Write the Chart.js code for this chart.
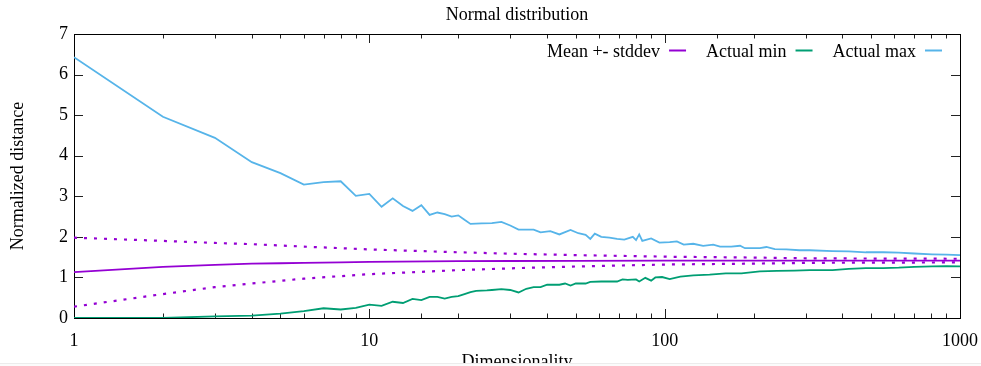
<!DOCTYPE html>
<html><head><meta charset="utf-8">
<script src="https://cdn.jsdelivr.net/npm/chart.js@4/dist/chart.umd.min.js"></script>
<style>
html,body{margin:0;padding:0;background:#fbfbfb;}
#wrap{width:981px;height:363px;overflow:hidden;background:#fff;border-bottom:1px solid #ececec;}
canvas{display:block;}
</style></head><body>
<div id="wrap"><canvas id="c" width="981" height="380"></canvas></div>
<script>
// ---- data ----
const chartTitle = 'Normal distribution';
const xTitle = 'Dimensionality';
const yTitle = 'Normalized distance';
const xTickLabels = [1, 10, 100, 1000];
const yTickValues = [0, 1, 2, 3, 4, 5, 6, 7];

const meanDims  = [1, 2, 3, 4, 5, 6, 8, 10, 20, 30, 50, 100, 1000];
const meanVals  = [1.13, 1.26, 1.31, 1.34, 1.35, 1.36, 1.37, 1.385, 1.40, 1.405, 1.41, 1.412, 1.414];

const stdDims   = [1, 2, 3, 4, 6, 10, 20, 32, 50, 104, 200, 310, 1000];
const upperVals = [1.98, 1.90, 1.85, 1.82, 1.76, 1.69, 1.62, 1.58, 1.55, 1.51, 1.49, 1.47, 1.46];
const lowerVals = [0.28, 0.59, 0.76, 0.85, 0.97, 1.08, 1.18, 1.23, 1.27, 1.32, 1.34, 1.36, 1.37];

const minDims = [1,2,3,4,5,6,7,8,9,10,11,12,13,14,15,16,17,18,19,20,21,22,23,25,26,28,30,32,34,36,38,40,44,46,48,50,54,56,61,66,69,72,75,80,82,86,90,93,98,104,113,125,142,161,182,210,240,275,310,370,420,480,550,620,700,805,900,1000];
const minVals = [0,0,0.04,0.06,0.11,0.17,0.24,0.21,0.25,0.33,0.30,0.40,0.37,0.47,0.44,0.52,0.52,0.48,0.52,0.54,0.59,0.64,0.67,0.68,0.69,0.71,0.69,0.63,0.72,0.76,0.76,0.82,0.82,0.85,0.80,0.85,0.85,0.89,0.90,0.90,0.90,0.95,0.94,0.95,0.90,0.99,0.92,1.00,1.01,0.96,1.02,1.05,1.07,1.10,1.10,1.15,1.16,1.17,1.18,1.18,1.21,1.23,1.23,1.24,1.26,1.27,1.28,1.27];

const maxDims = [1,2,3,4,5,6,7,8,9,10,11,12,13,14,15,16,17,18,19,20,21,22,24,26,28,30,32,34,36,38,41,44,48,51,54,56,58,61,65,69,73,78,80,82,84,87,90,96,104,110,116,125,135,146,154,168,180,187,210,221,236,258,286,310,370,420,480,550,620,700,805,900,1000];
const maxVals = [6.43,4.96,4.44,3.84,3.57,3.29,3.35,3.37,3.01,3.06,2.74,2.95,2.76,2.64,2.78,2.54,2.60,2.56,2.50,2.53,2.42,2.32,2.33,2.34,2.37,2.28,2.18,2.18,2.18,2.11,2.14,2.06,2.17,2.09,2.05,1.95,2.08,2.00,1.98,1.95,1.93,2.00,1.92,2.06,1.90,1.93,1.96,1.86,1.87,1.89,1.81,1.83,1.78,1.81,1.76,1.76,1.78,1.72,1.72,1.75,1.70,1.69,1.67,1.67,1.65,1.64,1.62,1.62,1.61,1.59,1.57,1.56,1.55];

const PURPLE = '#9400d3', GREEN = '#009e73', BLUE = '#56b4e9';
const FONT = {family: '"Liberation Serif", "DejaVu Serif", serif', size: 18};

const pts = (xs, ys) => xs.map((x, i) => ({x: x, y: ys[i]}));
const isPow10 = v => { const l = Math.log10(v); return Math.abs(l - Math.round(l)) < 1e-9; };

const framePlugin = {
  id: 'frame',
  beforeDatasetsDraw(chart) {
    const {ctx, chartArea: a, scales: {x, y}} = chart;
    ctx.save();
    ctx.strokeStyle = '#222';
    ctx.lineWidth = 1;
    ctx.beginPath();
    y.ticks.forEach(t => {
      const py = Math.round(y.getPixelForValue(t.value)) + 0.5;
      ctx.moveTo(a.left, py); ctx.lineTo(a.left + 9, py);
      ctx.moveTo(a.right, py); ctx.lineTo(a.right - 9, py);
    });
    x.ticks.forEach(t => {
      const px = Math.round(x.getPixelForValue(t.value)) + 0.5;
      const L = isPow10(t.value) ? 9 : 4.5;
      ctx.moveTo(px, a.bottom); ctx.lineTo(px, a.bottom - L);
      ctx.moveTo(px, a.top); ctx.lineTo(px, a.top + L);
    });
    ctx.stroke();
    ctx.strokeStyle = '#000';
    ctx.strokeRect(Math.round(a.left) + 0.5, Math.round(a.top) + 0.5,
                   Math.round(a.right - a.left), Math.round(a.bottom - a.top));
    ctx.restore();
  },
  afterDraw(chart) {
    const {ctx, chartArea: a} = chart;
    const items = chart.data.datasets.filter(d => d.inLegend);
    ctx.save();
    ctx.font = FONT.size + 'px ' + FONT.family;
    ctx.fillStyle = '#000';
    ctx.textAlign = 'right';
    ctx.textBaseline = 'alphabetic';
    let xr = a.right - 18;
    const ty = a.top + 22.5, ly = a.top + 16.5;
    for (let i = items.length - 1; i >= 0; i--) {
      const d = items[i];
      ctx.strokeStyle = d.borderColor;
      ctx.lineWidth = 2;
      ctx.beginPath();
      ctx.moveTo(xr - 17, ly); ctx.lineTo(xr, ly);
      ctx.stroke();
      const tx = xr - 17 - 9;
      ctx.fillText(d.label, tx, ty);
      xr = tx - ctx.measureText(d.label).width - 20;
    }
    ctx.restore();
  }
};

const line = (label, data, color, extra) => Object.assign({
  label, data, borderColor: color, backgroundColor: color,
  borderWidth: 1.8, pointRadius: 0, tension: 0, fill: false
}, extra || {});

new Chart(document.getElementById('c'), {
  type: 'line',
  data: {
    datasets: [
      line('Mean +- stddev', pts(meanDims, meanVals), PURPLE, {inLegend: true}),
      line('Mean + stddev', pts(stdDims, upperVals), PURPLE, {borderDash: [3, 7], borderWidth: 2.2}),
      line('Mean - stddev', pts(stdDims, lowerVals), PURPLE, {borderDash: [3, 7], borderWidth: 2.2}),
      line('Actual min', pts(minDims, minVals), GREEN, {inLegend: true}),
      line('Actual max', pts(maxDims, maxVals), BLUE, {inLegend: true})
    ]
  },
  options: {
    responsive: false,
    animation: false,
    devicePixelRatio: 1,
    layout: {padding: {left: 0, right: 21, top: 0, bottom: 0}},
    plugins: {
      legend: {display: false},
      tooltip: {enabled: false},
      title: {display: true, text: chartTitle, fullSize: false, color: '#000',
              font: Object.assign({weight: 'normal'}, FONT), padding: {top: 4, bottom: 8.4}}
    },
    scales: {
      x: {
        type: 'logarithmic', min: 1, max: 1000,
        grid: {display: false, drawTicks: false},
        border: {display: false},
        ticks: {autoSkip: false, maxRotation: 0, minRotation: 0, padding: 12.5, color: '#000', font: FONT,
                callback: v => xTickLabels.includes(v) ? String(v) : ''},
        title: {display: true, text: xTitle, color: '#000', font: FONT, padding: {top: 0, bottom: 6.5}},
        afterFit(s) { s.height = 62; s.paddingLeft = 0; s.paddingRight = 0; }
      },
      y: {
        min: 0, max: 7,
        grid: {display: false, drawTicks: false},
        border: {display: false},
        afterBuildTicks(s) { s.ticks = yTickValues.map(v => ({value: v})); },
        ticks: {padding: 6, color: '#000', font: FONT},
        title: {display: true, text: yTitle, color: '#000', font: FONT, padding: {top: 7, bottom: 0}},
        afterFit(s) { s.width = 74; s.paddingTop = 0; s.paddingBottom = 0; }
      }
    }
  },
  plugins: [framePlugin]
});
</script>
</body></html>
